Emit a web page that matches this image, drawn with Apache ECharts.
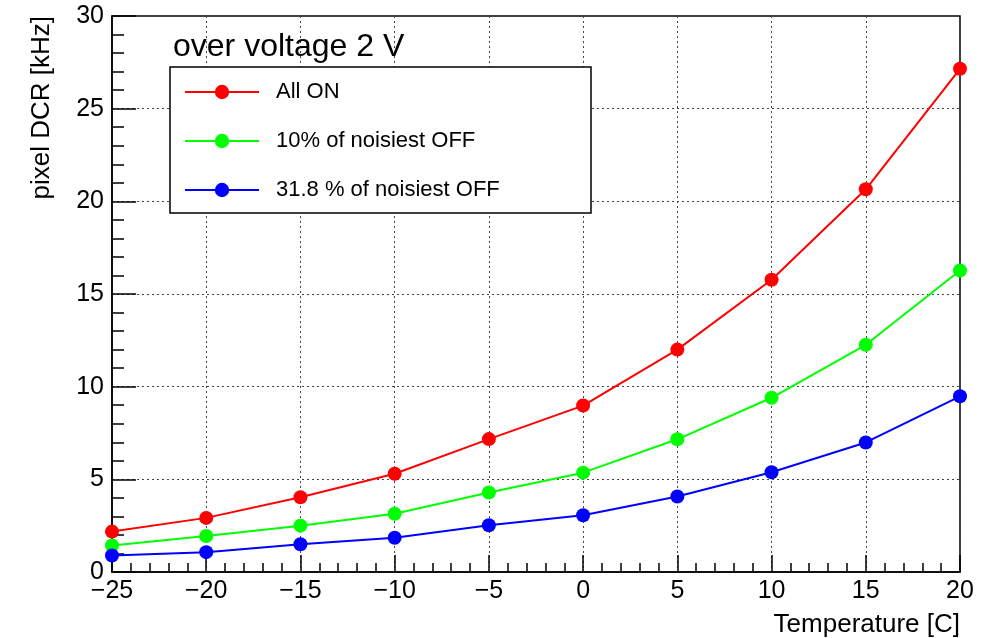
<!DOCTYPE html>
<html>
<head>
<meta charset="utf-8">
<script src="https://cdn.jsdelivr.net/npm/echarts@6/dist/echarts.min.js"></script>
<style>
  html, body { margin: 0; padding: 0; background: #fff; }
  #chart { width: 990px; height: 638px; }
</style>
</head>
<body>
<div id="chart"></div>
<script>
// Temperature scan points [C]
const temperatures = [-25, -20, -15, -10, -5, 0, 5, 10, 15, 20];

// Pixel dark count rate [kHz] per configuration
const allOn      = [2.18, 2.92, 4.03, 5.30, 7.17, 8.98, 12.0, 15.77, 20.65, 27.15];
const off10      = [1.43, 1.94, 2.50, 3.14, 4.29, 5.36, 7.16, 9.40, 12.26, 16.27];
const off31_8    = [0.89, 1.07, 1.50, 1.85, 2.52, 3.06, 4.07, 5.38, 6.99, 9.48];

const seriesNames = ['All ON', '10% of noisiest OFF', '31.8 % of noisiest OFF'];
const seriesColors = ['#ff0000', '#00ff00', '#0000ff'];
const seriesValues = [allOn, off10, off31_8];

const FONT = '"Liberation Sans", Arial, Helvetica, sans-serif';
const minus = v => String(v).replace('-', '\u2212');

const chart = echarts.init(document.getElementById('chart'), null, { renderer: 'canvas' });

const series = seriesValues.map((vals, i) => ({
  name: seriesNames[i],
  type: 'line',
  data: temperatures.map((t, k) => [t, vals[k]]),
  symbol: 'circle',
  symbolSize: 14,
  showSymbol: true,
  lineStyle: { color: seriesColors[i], width: 2 },
  itemStyle: { color: seriesColors[i] },
  emphasis: { disabled: true },
  animation: false,
  z: 2
}));

chart.setOption({
  animation: false,
  backgroundColor: '#ffffff',
  grid: { left: 112, right: 30, top: 16, bottom: 65, show: true, borderColor: '#000', borderWidth: 1.5, backgroundColor: 'transparent' },
  xAxis: {
    type: 'value',
    min: -25, max: 20, interval: 5,
    name: 'Temperature [C]',
    nameLocation: 'end',
    nameGap: 0,
    nameTextStyle: { fontFamily: FONT, fontSize: 26, color: '#000', align: 'right', verticalAlign: 'top', padding: [40, 0, 0, 0] },
    axisLine: { show: true, onZero: false, lineStyle: { color: '#000', width: 1.5 } },
    axisTick: { show: true, inside: true, length: 17, lineStyle: { color: '#000', width: 1.5 } },
    minorTick: { show: true, splitNumber: 5, length: 9, lineStyle: { color: '#000', width: 1.5 } },
    axisLabel: { fontFamily: FONT, fontSize: 25, color: '#000', margin: 7, formatter: v => minus(v) },
    splitLine: { show: true, lineStyle: { color: '#444', width: 1, type: [2, 3] } }
  },
  yAxis: {
    type: 'value',
    min: 0, max: 30, interval: 5,
    name: 'pixel DCR [kHz]',
    nameLocation: 'end',
    nameRotate: 90,
    nameGap: 0,
    nameTextStyle: { fontFamily: FONT, fontSize: 26, color: '#000', align: 'right', verticalAlign: 'bottom', padding: [0, 0, 57, 0] },
    axisLine: { show: true, onZero: false, lineStyle: { color: '#000', width: 1.5 } },
    axisTick: { show: true, inside: true, length: 24, lineStyle: { color: '#000', width: 1.5 } },
    minorTick: { show: true, splitNumber: 5, length: 12, lineStyle: { color: '#000', width: 1.5 } },
    axisLabel: { fontFamily: FONT, fontSize: 25, color: '#000', margin: 8 },
    splitLine: { show: true, lineStyle: { color: '#444', width: 1, type: [2, 3] } }
  },
  legend: {
    show: true,
    orient: 'vertical',
    left: 170,
    top: 67,
    z: 6,
    padding: [14, 14, 14, 14],
    itemWidth: 74,
    itemHeight: 18,
    itemGap: 27,
    textStyle: { fontFamily: FONT, fontSize: 22, color: '#000', padding: [0, 0, 0, 12] },
    data: seriesNames,
    selectedMode: false
  },
  graphic: [
    {
      type: 'rect',
      shape: { x: 170, y: 67, width: 421, height: 146 },
      style: { fill: '#ffffff', stroke: '#000', lineWidth: 1.5 },
      z: 5,
      silent: true
    },
    {
      type: 'text',
      left: 173,
      top: 31,
      style: { text: 'over voltage 2 V', fontFamily: FONT, fontSize: 32, fill: '#000' },
      z: 10,
      silent: true
    }
  ],
  series: series
});
</script>
</body>
</html>
